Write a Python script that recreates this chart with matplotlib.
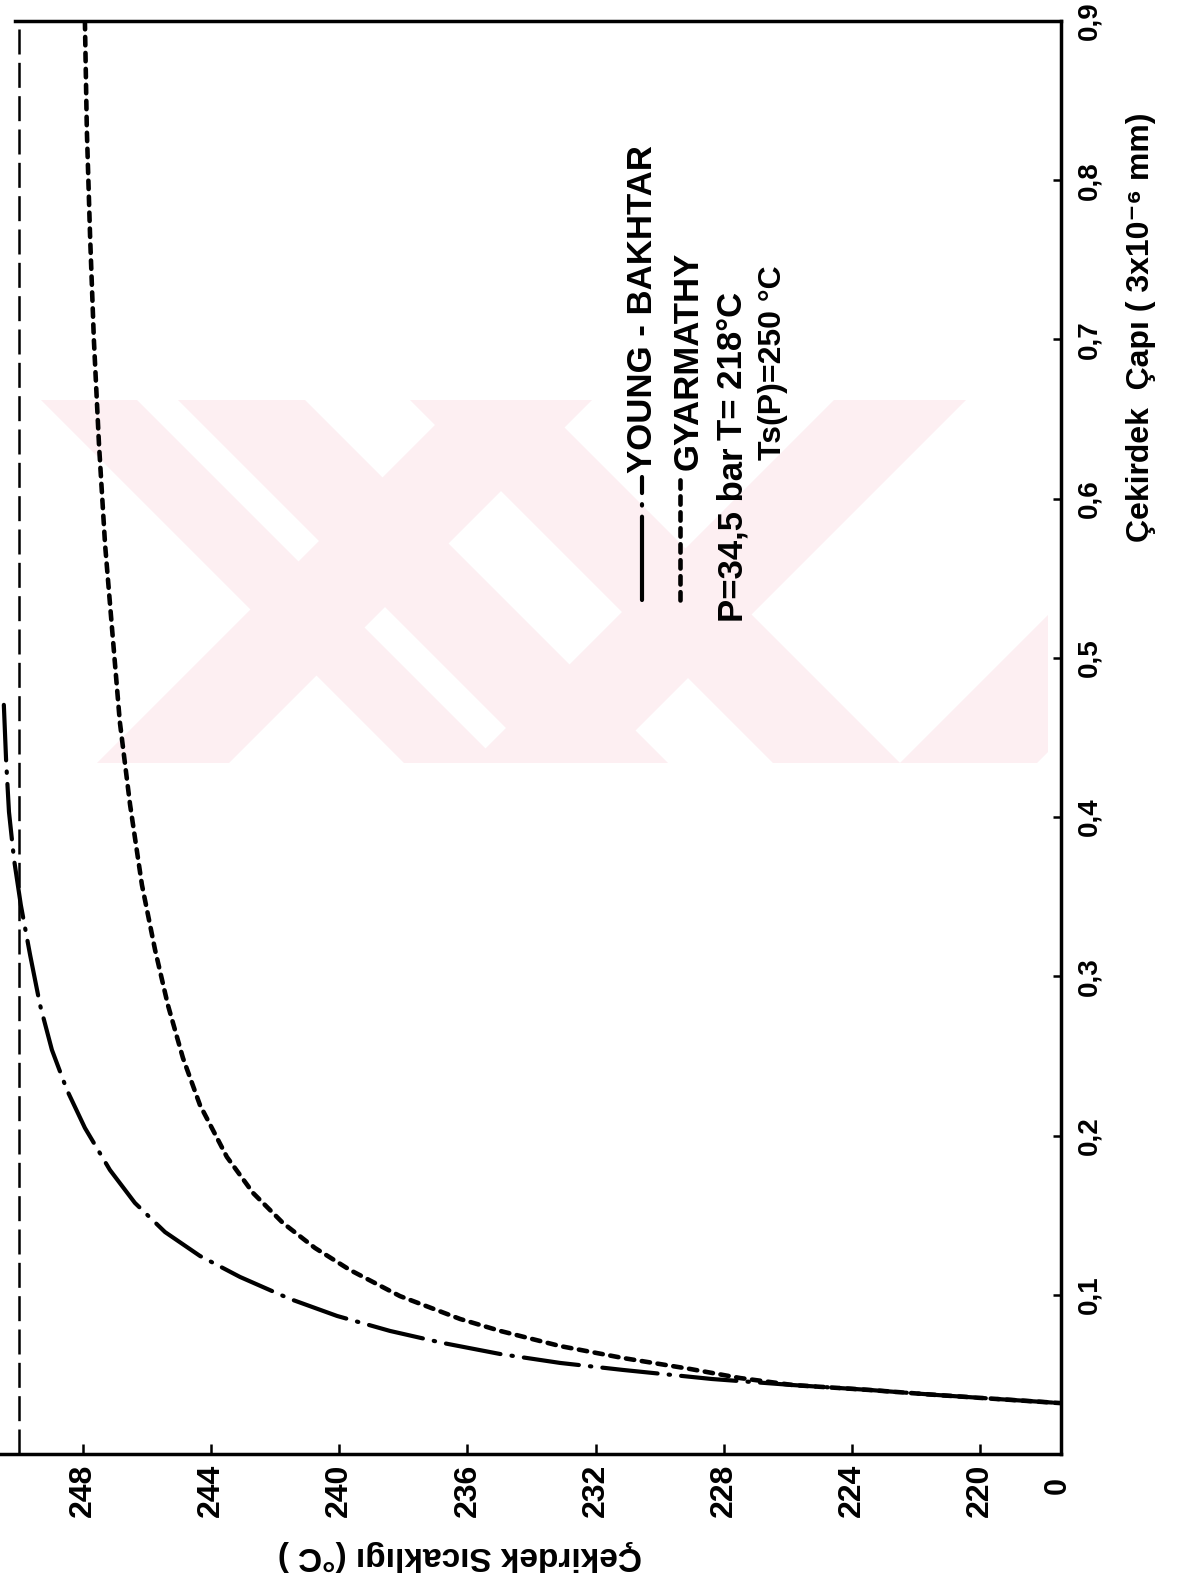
import matplotlib
matplotlib.use("Agg")
import matplotlib.pyplot as plt
from matplotlib.lines import Line2D
from matplotlib.patches import Polygon, Rectangle

plt.rcParams['font.family'] = ['Liberation Sans', 'DejaVu Sans']
plt.rcParams['lines.scale_dashes'] = False

# Nucleus temperature (°C) against nucleus diameter (x 3e-6 mm)
yb_temp = [250.47, 250.40, 250.31, 250.15, 249.94, 249.65, 249.34, 248.97, 248.50,
           247.94, 247.16, 246.38, 245.44, 244.35, 243.10, 241.54, 240.07, 238.42,
           236.76, 234.98, 233.11, 231.15, 228.37, 225.84, 223.44, 221.38, 219.44, 217.51]
yb_diam = [0.4705, 0.4359, 0.4033, 0.3731, 0.3448, 0.3134, 0.2820, 0.2538, 0.2286,
           0.2048, 0.1784, 0.1577, 0.1394, 0.1244, 0.1112, 0.0974, 0.0867, 0.0773,
           0.0697, 0.0628, 0.0572, 0.0528, 0.0471, 0.0433, 0.0402, 0.0371, 0.0345, 0.0320]

gy_temp = [247.94, 247.88, 247.78, 247.66, 247.50, 247.31, 247.09, 246.85, 246.53,
           246.16, 245.75, 245.35, 244.88, 244.35, 243.51, 242.69, 241.76, 240.76,
           239.67, 238.11, 236.23, 234.98, 233.11, 231.15, 229.05, 227.49,
           225.84, 223.44, 221.38, 219.44, 217.51]
gy_diam = [0.9000, 0.8317, 0.7657, 0.6997, 0.6338, 0.5710, 0.5176, 0.4598, 0.4077,
           0.3574, 0.3166, 0.2820, 0.2487, 0.2192, 0.1866, 0.1639, 0.1451, 0.1294,
           0.1156, 0.0992, 0.0848, 0.0773, 0.0678, 0.0603, 0.0534, 0.0477,
           0.0433, 0.0402, 0.0371, 0.0345, 0.0320]

ts_temp = 250.0

temp_ticks = [248, 244, 240, 236, 232, 228, 224, 220]
temp_labels = ['248', '244', '240', '236', '232', '228', '224', '220']
diam_ticks = [0.1, 0.2, 0.3, 0.4, 0.5, 0.6, 0.7, 0.8, 0.9]
diam_labels = ['0,1', '0,2', '0,3', '0,4', '0,5', '0,6', '0,7', '0,8', '0,9']

W, H = 1177, 1595


def fx(px):
    return px / W


def fy(py):
    return 1 - py / H


fig = plt.figure(figsize=(W / 100, H / 100), dpi=100)

# Faint diagonal-band emblem printed behind the chart
WM_TOP, WM_BOT, WM_LEFT, WM_RIGHT = 400, 763, 41, 1048
WM_COLOR = '#fdeff2'
wm_h = WM_BOT - WM_TOP
wm_clip = Rectangle((fx(WM_LEFT), fy(WM_BOT)), fx(WM_RIGHT) - fx(WM_LEFT),
                    fy(WM_TOP) - fy(WM_BOT), transform=fig.transFigure,
                    facecolor='none', edgecolor='none')
falling_bands = [(41, 137), (178, 305), (410, 537)]   # x-range at the top edge
rising_bands = [(97, 229), (471, 603), (900, 1037)]   # x-range at the bottom edge
for a, b in falling_bands:
    pts = [(a, WM_TOP), (b, WM_TOP), (b + wm_h, WM_BOT), (a + wm_h, WM_BOT)]
    poly = Polygon([(fx(x), fy(y)) for x, y in pts], closed=True,
                   transform=fig.transFigure, facecolor=WM_COLOR, edgecolor='none',
                   zorder=-5)
    poly.set_clip_path(wm_clip)
    fig.add_artist(poly)
for a, b in rising_bands:
    pts = [(a, WM_BOT), (b, WM_BOT), (b + wm_h, WM_TOP), (a + wm_h, WM_TOP)]
    poly = Polygon([(fx(x), fy(y)) for x, y in pts], closed=True,
                   transform=fig.transFigure, facecolor=WM_COLOR, edgecolor='none',
                   zorder=-5)
    poly.set_clip_path(wm_clip)
    fig.add_artist(poly)

ax = fig.add_axes([0, fy(1454), fx(1061), (1454 - 21) / H])
ax.patch.set_facecolor('none')
ax.set_xlim(250.59, 217.476)
ax.set_ylim(0, 0.9)

ax.plot(yb_temp, yb_diam, color='black', lw=3.0, dashes=[40, 8, 1, 8],
        dash_capstyle='round')
ax.plot(gy_temp, gy_diam, color='black', lw=3.3, dashes=[6, 5.5],
        dash_capstyle='round')
ax.axvline(ts_temp, color='black', lw=1.8, dashes=[18, 6])

for side in ('top', 'right', 'bottom'):
    ax.spines[side].set_linewidth(2.5)
ax.spines['left'].set_visible(False)
ax.spines['top'].set_bounds(250.12, 217.476)

ax.set_xticks(temp_ticks, temp_labels)
ax.tick_params(axis='x', direction='in', length=7, width=1.8, pad=7,
               labelsize=23, labelrotation=90)
ax.yaxis.tick_right()
ax.set_yticks(diam_ticks, diam_labels)
ax.tick_params(axis='y', direction='in', length=6, width=1.8, pad=11,
               labelsize=20, labelrotation=90, left=False)
for lab in ax.get_xticklabels() + ax.get_yticklabels():
    lab.set_fontweight('bold')
for lab in ax.get_yticklabels():
    lab.set_va('center')

# Axis titles and origin mark
fig.text(fx(460), fy(1556), "Çekirdek Sıcaklıgı (°C )", rotation=180,
         ha='center', va='center', fontsize=24, fontweight='bold')
fig.text(fx(1141), fy(327), "Çekirdek  Çapı ( 3x10⁻⁶ mm)", rotation=90,
         ha='center', va='center', fontsize=23, fontweight='bold')
fig.text(fx(1058), fy(1485), "0", rotation=90, ha='center', va='center',
         fontsize=22, fontweight='bold')

# Key
fig.add_artist(Line2D([fx(642), fx(642)], [fy(600), fy(477)], transform=fig.transFigure,
                      color='black', lw=3.0, dashes=[60, 8, 1, 8], dash_capstyle='round'))
fig.add_artist(Line2D([fx(680), fx(680)], [fy(600), fy(477)], transform=fig.transFigure,
                      color='black', lw=3.3, dashes=[6, 5.5], dash_capstyle='round'))
key_kw = dict(rotation=90, ha='center', va='bottom', fontsize=25, fontweight='bold')
fig.text(fx(643), fy(473), "YOUNG - BAKHTAR", **key_kw)
fig.text(fx(688), fy(470), "GYARMATHY", **key_kw)
fig.text(fx(733), fy(622), "P=34,5 bar", **key_kw)
fig.text(fx(733), fy(440), "T= 218°C", **key_kw)
fig.text(fx(773), fy(460), "Ts(P)=250 °C", **dict(key_kw, fontsize=23))

fig.savefig("out.png", dpi=100)
